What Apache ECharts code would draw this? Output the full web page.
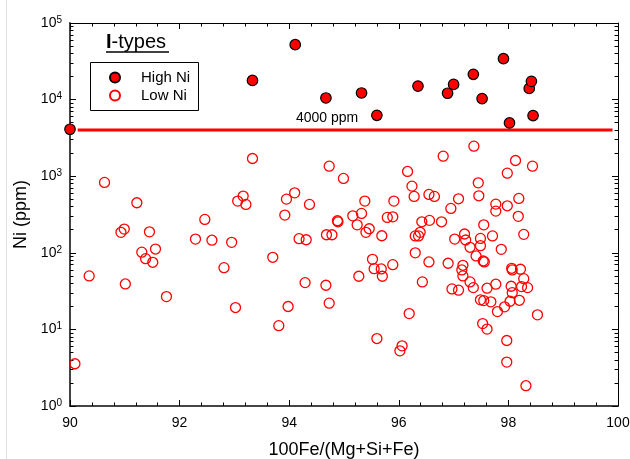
<!DOCTYPE html>
<html>
<head>
<meta charset="utf-8">
<script src="https://cdn.jsdelivr.net/npm/echarts@6/dist/echarts.min.js"></script>
<style>
html,body{margin:0;padding:0;background:#fff;}
#chart{width:630px;height:459px;}
</style>
</head>
<body>
<div id="chart"></div>
<script>
// ---- Data ----
const highNiX = [90.00, 93.33, 94.11, 94.67, 95.32, 95.60, 96.35, 96.89, 97.00, 97.36, 97.52, 97.91, 98.02, 98.38, 98.42, 98.45];
const highNiY = [4100, 17800, 52100, 10500, 12200, 6240, 15000, 12100, 15800, 21400, 10300, 34200, 4960, 14000, 17300, 6190];

const lowNiX = [90.09, 90.35, 90.63, 91.01, 90.93, 90.99, 91.22, 91.31, 91.38, 91.45, 91.51, 91.56, 91.76, 92.29, 92.46, 92.59, 92.81, 92.95, 93.02, 93.06,
  93.16, 93.21, 93.33, 93.70, 93.81, 93.92, 93.95, 93.98, 94.10, 94.18, 94.29, 94.31, 94.37, 94.68, 94.78, 94.67, 94.73, 94.73, 94.88, 94.89,
  94.99, 95.16, 95.24, 95.27, 95.32, 95.38, 95.40, 95.46, 95.52, 95.55, 95.60, 95.68, 95.69, 95.70, 95.79, 95.89, 95.89, 95.91, 96.02, 96.06,
  96.16, 96.19, 96.24, 96.28, 96.30, 96.36, 96.39, 96.30, 96.42, 96.43, 96.55, 96.55, 96.56, 96.65, 96.78, 96.81, 96.90, 96.95, 96.97, 97.02,
  97.09, 97.09, 97.15, 97.17, 97.17, 97.20, 97.22, 97.30, 97.30, 97.36, 97.37, 97.41, 97.45, 97.46, 97.49, 97.49, 97.49, 97.54, 97.56, 97.55,
  97.55, 97.53, 97.61, 97.61, 97.68, 97.71, 97.77, 97.77, 97.77, 97.80, 97.87, 97.93, 97.97, 97.97, 97.98, 97.98, 98.03, 98.05, 98.07, 98.06,
  98.07, 98.13, 98.18, 98.19, 98.20, 98.22, 98.24, 98.28, 98.28, 98.32, 98.35, 98.44, 98.53];
const lowNiY = [3.56, 49.9, 829, 39.2, 185, 204, 450, 102, 83.8, 188, 75.2, 112, 26.8, 151, 273, 146, 64, 137, 19.3, 473,
  550, 428, 1703, 87.4, 11.2, 311, 502, 19.9, 607, 153, 40.8, 148, 428, 172, 172, 37.7, 1352, 22.0, 262, 254,
  935, 304, 232, 49.4, 327, 473, 185, 206, 82.3, 62.1, 7.6, 61.5, 167, 49.4, 290, 70, 295, 473, 5.25, 6.1,
  1153, 16.1, 742, 545, 166, 166, 185, 100, 254, 41.7, 578, 75.9, 265, 545, 254, 1825, 73, 380, 33.8, 151,
  32.5, 507, 59.7, 49.9, 68.7, 176, 147, 41.7, 118, 35.1, 2464, 90.9, 819, 555, 154, 124, 24.3, 78.2, 75.9, 232,
  23.8, 11.9, 34.5, 10.1, 22.9, 166, 432, 350, 38.9, 17.1, 111, 19.7, 7.16, 3.74, 1096, 411, 23.3, 36.6, 30.2, 62.8,
  59.7, 1604, 299, 513, 24.0, 61, 36.2, 46, 174, 1.84, 35.1, 1352, 15.5];

const cutoffX = [90.14, 99.9];
const cutoffY = [4000, 4000];

const seriesNames = ['High Ni', 'Low Ni'];
const xTitle = '100Fe/(Mg+Si+Fe)';
const yTitle = 'Ni (ppm)';
const groupTitle = ['I', '-types'];
const cutoffLabel = '4000 ppm';

const zip = (xs, ys) => xs.map((x, i) => [x, ys[i]]);
const FONT = 'Liberation Sans, Arial, sans-serif';

const chart = echarts.init(document.getElementById('chart'), null, {renderer: 'canvas'});

function xAxisCfg(pos, labels) {
  return {
    type: 'value', position: pos, min: 90, max: 100, interval: 2,
    axisLine: {show: true, onZero: false, lineStyle: {color: pos === 'bottom' ? '#444' : '#000', width: pos === 'bottom' ? 2 : 1}},
    axisTick: {show: true, inside: true, length: 6, lineStyle: {color: '#000', width: 1}},
    minorTick: {show: true, splitNumber: 5, length: 3.5, lineStyle: {color: '#000', width: 1}},
    axisLabel: {show: labels, color: '#000', fontSize: 14, fontFamily: FONT, margin: 10},
    splitLine: {show: false},
    name: labels ? xTitle : '', nameLocation: 'middle', nameGap: 35,
    nameTextStyle: {color: '#000', fontSize: 18, fontFamily: FONT}
  };
}
function yAxisCfg(pos, labels) {
  return {
    type: 'log', logBase: 10, position: pos, min: 1, max: 100000,
    axisLine: {show: true, onZero: false, lineStyle: {color: pos === 'left' ? '#444' : '#000', width: pos === 'left' ? 2 : 1}},
    axisTick: {show: true, inside: true, length: 6, lineStyle: {color: '#000', width: 1}},
    minorTick: {show: true, splitNumber: 9, length: 3.5, lineStyle: {color: '#000', width: 1}},
    axisLabel: {
      show: labels, color: '#000', fontSize: 14, fontFamily: FONT, margin: 8,
      formatter: v => '10{sup|' + Math.round(Math.log10(v)) + '}',
      rich: {sup: {fontSize: 10, fontFamily: FONT, color: '#000', verticalAlign: 'top', padding: [0, 0, 6, 0]}}
    },
    splitLine: {show: false},
    name: labels ? yTitle : '', nameLocation: 'middle', nameGap: 38, nameRotate: 90,
    nameTextStyle: {color: '#000', fontSize: 18, fontFamily: FONT}
  };
}

chart.setOption({
  animation: false,
  backgroundColor: '#fff',
  grid: {left: 70, right: 12, top: 23, bottom: 53, containLabel: false, outerBoundsMode: 'none'},
  xAxis: [xAxisCfg('bottom', true), xAxisCfg('top', false)],
  yAxis: [yAxisCfg('left', true), yAxisCfg('right', false)],
  legend: {
    data: seriesNames,
    orient: 'vertical', left: 90, top: 62,
    padding: [8, 8, 7, 19], itemGap: 3,
    itemWidth: 42, itemHeight: 10, symbolKeepAspect: true,
    borderWidth: 0,
    textStyle: {color: '#000', fontSize: 15, fontFamily: FONT}
  },
  graphic: [
    {type: 'line', shape: {x1: 6.5, y1: 0, x2: 6.5, y2: 459}, style: {stroke: '#e2e2e2', lineWidth: 1}, silent: true},
    {type: 'rect', shape: {x: 90.5, y: 62.5, width: 108, height: 48}, style: {fill: 'none', stroke: '#000', lineWidth: 1}, silent: true},
    {type: 'text', left: 106, top: 32, style: {
      text: '{b|' + groupTitle[0] + '}{n|' + groupTitle[1] + '}',
      rich: {b: {fontSize: 20, fontWeight: 'bold', fontFamily: FONT, fill: '#000'}, n: {fontSize: 20, fontFamily: FONT, fill: '#000'}}
    }},
    {type: 'line', shape: {x1: 106, y1: 52, x2: 169, y2: 52}, style: {stroke: '#000', lineWidth: 1.5}},
    {type: 'text', x: 296, y: 118, style: {text: cutoffLabel, fontSize: 14, fontFamily: FONT, fill: '#000', verticalAlign: 'middle'}}
  ],
  series: [
    {
      name: 'cutoff', type: 'line', xAxisIndex: 0, yAxisIndex: 0,
      data: zip(cutoffX, cutoffY), symbol: 'none',
      lineStyle: {color: '#ff0000', width: 3}, z: 1, silent: true
    },
    {
      name: seriesNames[0], type: 'scatter', xAxisIndex: 0, yAxisIndex: 0,
      data: zip(highNiX, highNiY), symbol: 'circle', symbolSize: 10.5, clip: false,
      itemStyle: {color: '#ff0000', borderColor: '#000', borderWidth: 1.2, opacity: 1}, z: 3
    },
    {
      name: seriesNames[1], type: 'scatter', xAxisIndex: 0, yAxisIndex: 0,
      data: zip(lowNiX, lowNiY), symbol: 'circle', symbolSize: 10, clip: false,
      itemStyle: {color: 'rgba(255,255,255,0)', borderColor: '#ff0000', borderWidth: 1.3, opacity: 1}, z: 2
    }
  ]
});
</script>
</body>
</html>
